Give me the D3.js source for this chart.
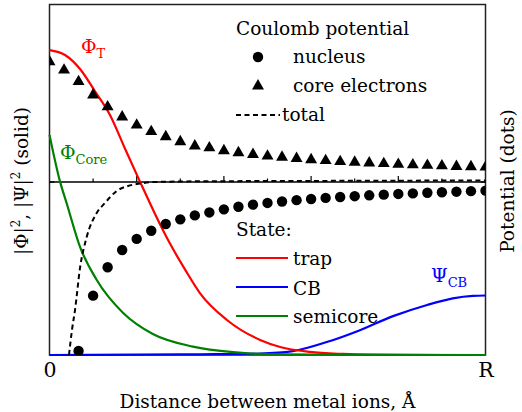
<!DOCTYPE html>
<html>
<head>
<meta charset="utf-8">
<script src="https://cdn.jsdelivr.net/npm/d3@7"></script>
<style>
  body { margin: 0; background: #fff; }
  svg { display: block; }
</style>
</head>
<body>
<svg id="chart" width="522" height="412"></svg>
<script>
// Distance between metal ions, in units of R (0 .. 1)
const markerPos = d3.range(31).map(i => i / 30);

// Coulomb potential of the nucleus (markers from the 3rd grid point on)
const nucleusPos = markerPos.slice(2);
const nucleusPot = [-0.977, -0.657, -0.493, -0.393, -0.329, -0.282, -0.243, -0.216, -0.193,
  -0.176, -0.158, -0.143, -0.131, -0.121, -0.113, -0.105, -0.098, -0.092, -0.087, -0.082,
  -0.077, -0.073, -0.069, -0.066, -0.062, -0.059, -0.056, -0.053, -0.050];

// Coulomb potential of the core electrons
const corePot = [0.695, 0.647, 0.580, 0.503, 0.434, 0.376, 0.329, 0.291, 0.262, 0.233,
  0.208, 0.197, 0.181, 0.169, 0.159, 0.150, 0.143, 0.136, 0.129, 0.124, 0.118, 0.114,
  0.110, 0.106, 0.102, 0.099, 0.096, 0.093, 0.090, 0.088, 0.086];

// Total potential (dashed)
const totalPos = [0.0447, 0.0516, 0.0585, 0.070, 0.0853, 0.1083, 0.1273, 0.1541, 0.180, 0.2076, 0.242, 0.345, 0.575, 1.0];
const totalPot = [-1.0, -0.855, -0.740, -0.497, -0.318, -0.179, -0.121, -0.052, -0.023, -0.0087, 0.0, 0.004, 0.006, 0.009];

// |Phi|^2 of the trap state
const trapPos = [0, 0.0356, 0.070, 0.104, 0.139, 0.173, 0.208, 0.242, 0.276, 0.311, 0.345, 0.407, 0.483, 0.529, 0.597, 0.673, 0.735, 0.804, 1.0];
const trapDen = [0.871, 0.857, 0.817, 0.754, 0.685, 0.590, 0.494, 0.403, 0.319, 0.244, 0.177, 0.100, 0.043, 0.023, 0.009, 0.003, 0.0008, 0.0002, 0];

// |Psi|^2 of the conduction-band state
const cbPos = [0, 0.2, 0.345, 0.483, 0.558, 0.636, 0.712, 0.788, 0.866, 0.925, 0.971, 1.0];
const cbDen = [0, 0.0008, 0.002, 0.004, 0.011, 0.037, 0.071, 0.111, 0.143, 0.162, 0.169, 0.170];

// |Phi|^2 of the semicore state
const semiPos = [0, 0.024, 0.039, 0.070, 0.108, 0.169, 0.237, 0.329, 0.421, 0.483, 0.6, 1.0];
const semiDen = [0.629, 0.496, 0.435, 0.309, 0.215, 0.120, 0.060, 0.024, 0.008, 0.003, 0.001, 0];

const xTickPos = [0, 1];
const xTickLabels = ["0", "R"];
const zeroTicksMinor = [0.1, 0.3, 0.5, 0.7, 0.9];
const zeroTicksMajor = [0.2, 0.4, 0.6, 0.8];

const RED = "#ff0000", BLUE = "#0000ff", GREEN = "#008000";
const SERIF = "'DejaVu Serif', serif";
const fs = 18.5;

const svg = d3.select("#chart");
const L = 49.5, R = 485.5, T = 4.5, B = 355;

const x = d3.scaleLinear().domain([0, 1]).range([L, R]);
const yDen = d3.scaleLinear().domain([0, 1]).range([B, 5]);
const yPot = d3.scaleLinear().domain([-1, 1]).range([B, 9]);

svg.append("defs").append("clipPath").attr("id", "plotClip")
  .append("rect").attr("x", L).attr("y", T).attr("width", R - L).attr("height", B - T);

// frame
svg.append("rect")
  .attr("x", L).attr("y", T).attr("width", R - L).attr("height", B - T)
  .attr("fill", "none").attr("stroke", "#222").attr("stroke-width", 1.5);

// zero line of the potential with its ticks
const y0 = yPot(0);
svg.append("line").attr("x1", L).attr("x2", R).attr("y1", y0).attr("y2", y0)
  .attr("stroke", "#000").attr("stroke-width", 1.3);
svg.selectAll(".tmin").data(zeroTicksMinor).join("line")
  .attr("x1", d => x(d)).attr("x2", d => x(d)).attr("y1", y0).attr("y2", y0 - 3.5)
  .attr("stroke", "#000").attr("stroke-width", 1.2);
svg.selectAll(".tmaj").data(zeroTicksMajor).join("line")
  .attr("x1", d => x(d)).attr("x2", d => x(d)).attr("y1", y0).attr("y2", y0 - 6)
  .attr("stroke", "#000").attr("stroke-width", 1.2);
svg.append("line").attr("x1", L).attr("x2", L + 5).attr("y1", y0).attr("y2", y0)
  .attr("stroke", "#000").attr("stroke-width", 1.3);
svg.append("line").attr("x1", R - 5).attr("x2", R).attr("y1", y0).attr("y2", y0)
  .attr("stroke", "#000").attr("stroke-width", 1.3);

// x-axis labels
const xAxis = d3.axisBottom(x).tickValues(xTickPos).tickFormat((d, i) => xTickLabels[i]).tickSize(0).tickPadding(6);
const gx = svg.append("g").attr("transform", `translate(0,${B})`).call(xAxis)
  .attr("font-family", SERIF).attr("font-size", fs + 2);
gx.select(".domain").remove();
gx.selectAll("text").attr("fill", "#000").attr("dy", "0.76em");

// density curves
const denLine = d3.line().x(d => x(d[0])).y(d => yDen(d[1])).curve(d3.curveMonotoneX);
const curves = [
  [cbPos, cbDen, BLUE],
  [trapPos, trapDen, RED],
  [semiPos, semiDen, GREEN]
];
curves.forEach(([p, v, c]) => {
  svg.append("path").datum(d3.zip(p, v)).attr("d", denLine)
    .attr("fill", "none").attr("stroke", c).attr("stroke-width", 2.2);
});

// potentials
const clip = svg.append("g").attr("clip-path", "url(#plotClip)");
const potLine = d3.line().x(d => x(d[0])).y(d => yPot(d[1])).curve(d3.curveMonotoneX);
clip.append("path").datum(d3.zip(totalPos, totalPot)).attr("d", potLine)
  .attr("fill", "none").attr("stroke", "#000").attr("stroke-width", 2)
  .attr("stroke-dasharray", "5,3.5");

const tri = d3.symbol().type(d3.symbolTriangle).size(62);
clip.selectAll(".core").data(d3.zip(markerPos, corePot)).join("path")
  .attr("d", tri).attr("transform", d => `translate(${x(d[0])},${yPot(d[1])})`)
  .attr("fill", "#000");
clip.selectAll(".nuc").data(d3.zip(nucleusPos, nucleusPot)).join("circle")
  .attr("cx", d => x(d[0])).attr("cy", d => yPot(d[1])).attr("r", 5.2)
  .attr("fill", "#000");

function label(px, py, str, color) {
  return svg.append("text").attr("x", px).attr("y", py)
    .attr("font-family", SERIF).attr("font-size", fs)
    .attr("fill", color || "#000").text(str);
}

// Coulomb potential legend
label(236, 35, "Coulomb potential");
svg.append("circle").attr("cx", 258).attr("cy", 57).attr("r", 5.2).attr("fill", "#000");
label(293, 63, "nucleus");
svg.append("path").attr("d", tri).attr("transform", "translate(258,86)").attr("fill", "#000");
label(293, 92, "core electrons");
svg.append("line").attr("x1", 236).attr("x2", 280).attr("y1", 115).attr("y2", 115)
  .attr("stroke", "#000").attr("stroke-width", 2).attr("stroke-dasharray", "5,3.5");
label(282, 121, "total");

// State legend
label(236, 236, "State:");
[["trap", RED, 258, 265], ["CB", BLUE, 287, 295], ["semicore", GREEN, 316, 323]].forEach(([lab, c, ly, ty]) => {
  svg.append("line").attr("x1", 236).attr("x2", 288).attr("y1", ly).attr("y2", ly)
    .attr("stroke", c).attr("stroke-width", 2.2);
  label(293, ty, lab);
});

// curve labels
function sublabel(px, py, main, sub, color) {
  const t = svg.append("text").attr("x", px).attr("y", py)
    .attr("font-family", SERIF).attr("fill", color);
  t.append("tspan").attr("font-size", 19).text(main);
  t.append("tspan").attr("font-size", 13).attr("dy", 5).text(sub);
}
sublabel(81, 53, "\u03A6", "T", RED);
sublabel(60, 159, "\u03A6", "Core", GREEN);
sublabel(431, 282, "\u03A8", "CB", BLUE);

// axis titles
label(267.5, 408, "Distance between metal ions, \u00C5").attr("text-anchor", "middle");

const yl = svg.append("text").attr("transform", "translate(28,181) rotate(-90)")
  .attr("text-anchor", "middle").attr("font-family", SERIF).attr("font-size", fs);
yl.append("tspan").text("|\u03A6|");
yl.append("tspan").attr("font-size", 12).attr("dy", -8).text("2");
yl.append("tspan").attr("dy", 8).text(", |\u03A8|");
yl.append("tspan").attr("font-size", 12).attr("dy", -8).text("2");
yl.append("tspan").attr("dy", 8).text(" (solid)");

svg.append("text").attr("transform", "translate(514,181) rotate(-90)")
  .attr("text-anchor", "middle").attr("font-family", SERIF).attr("font-size", fs)
  .text("Potential (dots)");
</script>
</body>
</html>
